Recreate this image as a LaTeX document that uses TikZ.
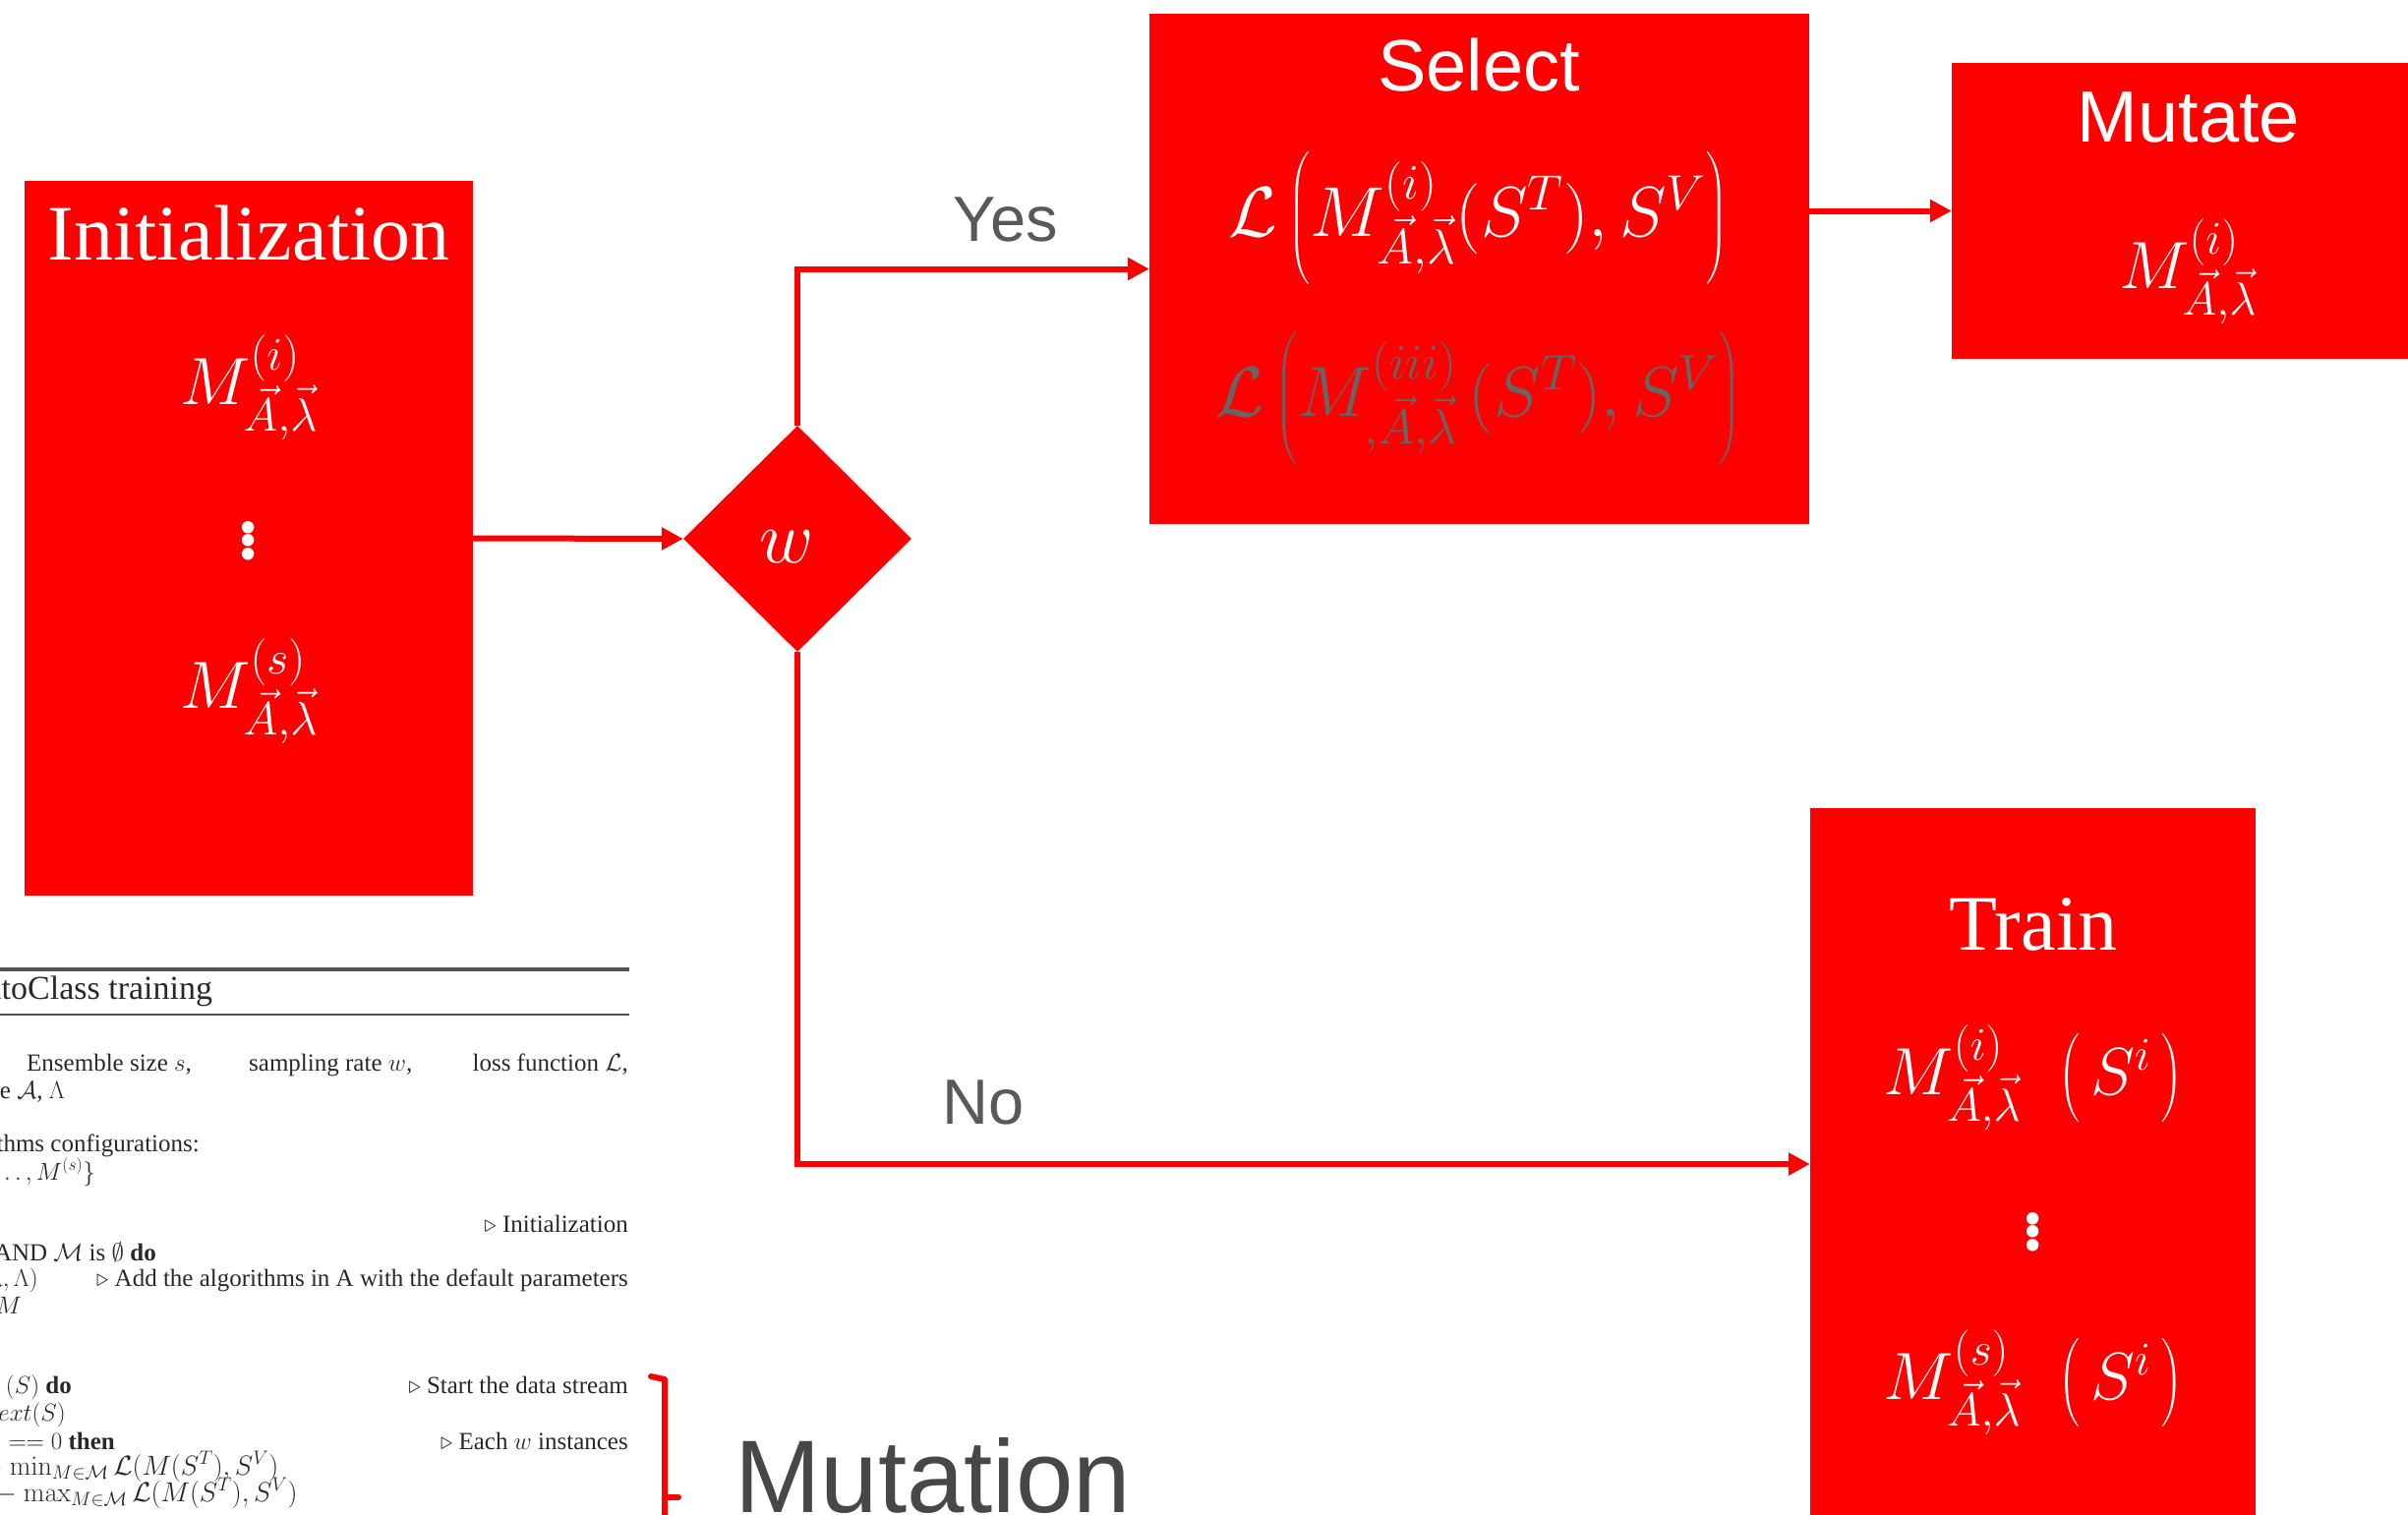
\RequirePackage{fix-cm}
\documentclass[tikz,border=0pt]{standalone}
\usepackage{amsmath}
\usepackage[no-math]{fontspec}
\setmainfont{Liberation Serif}
\newfontfamily\arialfont{Liberation Sans}
\usetikzlibrary{arrows.meta,shapes.geometric}

\definecolor{boxred}{RGB}{255,0,0}
\definecolor{labelgray}{RGB}{89,89,89}
\definecolor{formulagray}{RGB}{102,102,102}
\definecolor{bracegray}{RGB}{71,71,71}
\definecolor{algotext}{RGB}{40,40,40}

\newcommand{\Mvec}[1]{M^{(#1)}_{\vec{A},\vec{\lambda}}}

\begin{document}
\begin{tikzpicture}[x=1pt,y=-1pt,
  redbox/.style={rectangle,fill=boxred,draw=none,inner sep=0pt},
  flow/.style={draw=boxred,line width=6pt,-{Triangle[length=22pt,width=22pt]}},
  sanstitle/.style={text=white,font=\arialfont\fontsize{74}{84}\selectfont},
  seriftitle/.style={text=white,font=\fontsize{80}{90}\selectfont},
  mathtext/.style={text=white,font=\fontsize{68}{80}\selectfont},
  losstext/.style={font=\fontsize{72}{80}\selectfont},
  dotstext/.style={text=white,font=\fontsize{105}{110}\selectfont},
  branchlabel/.style={text=labelgray,font=\arialfont\fontsize{65}{75}\selectfont},
  algo/.style={text=algotext,inner sep=0pt,font=\fontsize{25}{30}\selectfont},
  algorule/.style={draw=algotext!80!white}
]
\useasboundingbox (0,0) rectangle (2449,1540);

% ---------- boxes ----------
\node[redbox,minimum width=456pt,minimum height=727pt] (init) at (253,547.5) {};
\node[diamond,fill=boxred,draw=none,inner sep=0pt,minimum width=232pt,minimum height=230pt] (dec) at (811,548) {};
\node[redbox,minimum width=671pt,minimum height=519pt] (select) at (1504.5,273.5) {};
\node[redbox,minimum width=475pt,minimum height=301pt] (mutate) at (2222.5,214.5) {};
\node[redbox,minimum width=453pt,minimum height=724pt] (train) at (2067.5,1184) {};

% ---------- box contents ----------
\node[seriftitle] (inittitle) at (253,237) {Initialization};
\node[mathtext] (initfirst) at (253,394) {$\Mvec{i}$};
\node[dotstext] (initdots) at (253,547) {$\vdots$};
\node[mathtext] (initlast) at (253,703) {$\Mvec{s}$};

\node[mathtext,font=\fontsize{76}{84}\selectfont] (decw) at (800,556) {$w$};

\node[sanstitle] (selecttitle) at (1504,66) {Select};
\node[mathtext,losstext] (selectbest) at (1503,222)
  {$\mathcal{L}\,\Big(\Mvec{i}(S^{T}),S^{V}\Big)$};
\node[mathtext,losstext,text=formulagray] (selectother) at (1503,405)
  {$\mathcal{L}\,\Big(M^{(iii)}_{,\vec{A},\vec{\lambda}}\,(S^{T}),S^{V}\Big)$};

\node[sanstitle] (mutatetitle) at (2226,119) {Mutate};
\node[mathtext] (mutatemodel) at (2225,276) {$\Mvec{i}$};

\node[seriftitle] (traintitle) at (2068,940) {Train};
\node[mathtext] (trainfirst) at (2068,1096) {$\Mvec{i}\;\;\big(\,S^{i}\,\big)$};
\node[dotstext] (traindots) at (2068,1250) {$\vdots$};
\node[mathtext] (trainlast) at (2068,1406) {$\Mvec{s}\;\;\big(\,S^{i}\,\big)$};

% ---------- connectors ----------
\draw[flow] (init.east) -- (dec.west);
\draw[flow] (dec.north) |- (select.west);
\draw[flow] (select.east |- mutate.west) -- (mutate.west);
\draw[flow] (dec.south) |- (train.west);

\node[branchlabel] (yeslabel) at (1023,223) {Yes};
\node[branchlabel] (nolabel) at (1000,1121) {No};

% ---------- algorithm excerpt ----------
\begin{scope}
\clip (0,960) rectangle (700,1540);
\draw[algorule,line width=4pt] (-10,986) -- (640,986);
\draw[algorule,line width=2pt] (-10,1032) -- (640,1032);
\node[algo,anchor=base west,font=\fontsize{34}{38}\selectfont] (algotitle) at (-40,1016) {AutoClass training};

\node[algo,anchor=base west] (inA) at (27,1089) {Ensemble size $s$,};
\node[algo,anchor=base west] (inB) at (253,1089) {sampling rate $w$,};
\node[algo,anchor=base east] (inC) at (639,1089) {loss function $\mathcal{L}$,};
\node[algo,anchor=base east] (inD) at (66,1117) {space $\mathcal{A}$, $\Lambda$};
\node[algo,anchor=base east] (outA) at (203,1171) {algorithms configurations:};
\node[algo,anchor=base east] (outB) at (97,1200) {$\{M^{(1)},\ldots,M^{(s)}\}$};
\node[algo,anchor=base east] (cInit) at (639,1253) {$\triangleright$ Initialization};
\node[algo,anchor=base east] (lWhile) at (159,1282) {AND $\mathcal{M}$ is $\emptyset$ \textbf{do}};
\node[algo,anchor=base east] (lAdd) at (39,1308) {$\mathcal{A},\Lambda)$};
\node[algo,anchor=base east] (cAdd) at (639,1308) {$\triangleright$ Add the algorithms in A with the default parameters};
\node[algo,anchor=base east] (lM) at (22,1336) {$M$};
\node[algo,anchor=base east] (lFor) at (73,1417) {$(S)$ \textbf{do}};
\node[algo,anchor=base east] (cFor) at (639,1417) {$\triangleright$ Start the data stream};
\node[algo,anchor=base east] (lNext) at (67,1445) {$next(S)$};
\node[algo,anchor=base east] (lIf) at (117,1474) {$== 0$ \textbf{then}};
\node[algo,anchor=base east] (cIf) at (639,1474) {$\triangleright$ Each $w$ instances};
\node[algo,anchor=base west,font=\fontsize{28}{32}\selectfont] (lMin) at (-26,1500) {$\leftarrow \min_{M\in\mathcal{M}}\mathcal{L}(M(S^{T}),S^{V})$};
\node[algo,anchor=base west,font=\fontsize{28}{32}\selectfont] (lMax) at (-12,1527) {$\leftarrow \max_{M\in\mathcal{M}}\mathcal{L}(M(S^{T}),S^{V})$};
\end{scope}

% ---------- bracket and its label ----------
\coordinate (bracetop) at (662,1400);
\coordinate (bracecorner) at (676,1403);
\coordinate (braceend) at (676,1660);
\coordinate (bracemid) at (676,1523);
\coordinate (bracetip) at (690,1523);
\draw[boxred,line width=6pt,line cap=round,line join=round]
  (bracetop) -- (bracecorner) -- (braceend);
\draw[boxred,line width=6pt,line cap=round] (bracemid) -- (bracetip);
\node[text=bracegray,font=\arialfont\fontsize{105}{120}\selectfont,anchor=base west,inner sep=0pt]
  (mutationlabel) at (747,1538) {Mutation};
\end{tikzpicture}
\end{document}
